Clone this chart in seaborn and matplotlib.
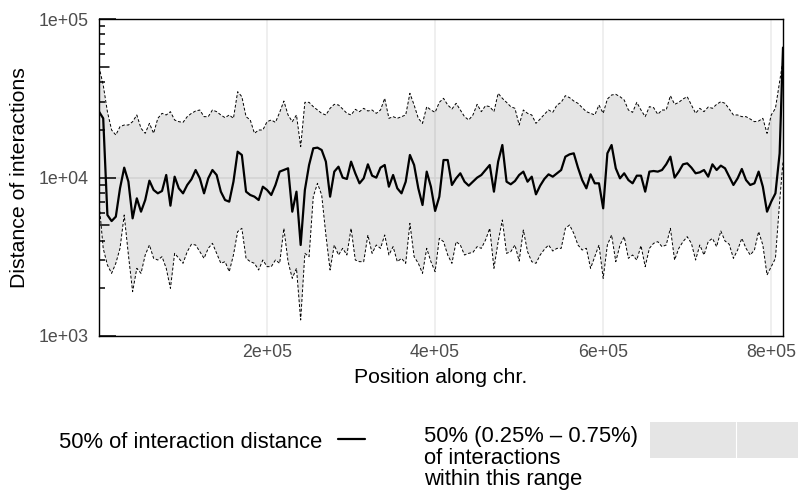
import matplotlib
matplotlib.use("Agg")
import matplotlib.pyplot as plt
import numpy as np
import pandas as pd
import seaborn as sns
from matplotlib.ticker import LogLocator, FixedLocator, FuncFormatter, NullLocator, NullFormatter
from matplotlib.lines import Line2D
from matplotlib.patches import Rectangle

# ---------------- data ----------------
position_kb = [0, 5, 10, 15, 20, 25, 30, 35, 40, 45,
               50, 55, 60, 65, 70, 75, 80, 85, 90, 95,
               100, 105, 110, 115, 120, 125, 130, 135, 140, 145,
               150, 155, 160, 165, 170, 175, 180, 185, 190, 195,
               200, 205, 210, 215, 220, 225, 230, 235, 240, 245,
               250, 255, 260, 265, 270, 275, 280, 285, 290, 295,
               300, 305, 310, 315, 320, 325, 330, 335, 340, 345,
               350, 355, 360, 365, 370, 375, 380, 385, 390, 395,
               400, 405, 410, 415, 420, 425, 430, 435, 440, 445,
               450, 455, 460, 465, 470, 475, 480, 485, 490, 495,
               500, 505, 510, 515, 520, 525, 530, 535, 540, 545,
               550, 555, 560, 565, 570, 575, 580, 585, 590, 595,
               600, 605, 610, 615, 620, 625, 630, 635, 640, 645,
               650, 655, 660, 665, 670, 675, 680, 685, 690, 695,
               700, 705, 710, 715, 720, 725, 730, 735, 740, 745,
               750, 755, 760, 765, 770, 775, 780, 785, 790, 795,
               800, 805, 810, 814]

median_dist = [26020, 23620, 5800, 5310, 5660, 8545, 11540, 9410, 5525, 7390,
               6087, 7210, 9550, 8340, 7945, 8220, 10370, 6640, 10120, 8545,
               7945, 8970, 9740, 11150, 9880, 7945, 9880, 11150, 10370, 8140,
               7210, 7040, 9410, 14550, 13870, 8140, 7756, 7570, 7210, 8750,
               8340, 7756, 8970, 10890, 11150, 11430, 6087, 8140, 3751, 8340,
               11990, 15280, 15430, 14910, 12590, 7570, 10890, 11700, 9980, 9790,
               12590, 10630, 9190, 9880, 12110, 10270, 9980, 11540, 11990, 8750,
               10370, 8545, 7945, 9410, 13870, 11990, 8545, 6707, 10890, 8750,
               6150, 7570, 12890, 12890, 8970, 9880, 10630, 9410, 8880, 9410,
               9980, 10370, 11150, 11990, 8140, 12590, 16030, 9410, 9060, 9500,
               10370, 10890, 9410, 10120, 7830, 8880, 9790, 10470, 10120, 10630,
               11150, 13530, 14000, 14210, 11540, 9640, 8545, 10470, 9190, 9190,
               6390, 14210, 16030, 11430, 9880, 10630, 9640, 9190, 10270, 10270,
               8140, 10890, 10990, 10890, 11150, 12110, 13530, 9980, 10890, 12110,
               12290, 11540, 10630, 10780, 11150, 10120, 12110, 11150, 11880, 11430,
               10120, 8970, 9880, 11320, 9640, 8970, 9190, 10890, 8750, 6087,
               7040, 7945, 14210, 66000]

upper_dist = [50030, 38340, 26020, 19940, 18540, 20930, 21440, 21440, 22500, 24800,
              20430, 19000, 21960, 19000, 23620, 25400, 24800, 26020, 23060, 22500,
              22280, 24200, 25400, 26280, 26660, 24200, 24200, 26660, 26020, 24800,
              23850, 24800, 23620, 34800, 32360, 24200, 23060, 19000, 19940, 19940,
              22500, 23060, 22280, 25770, 30380, 24800, 22500, 24800, 15650, 29800,
              29800, 27990, 26660, 25400, 24800, 27320, 28950, 28670, 27050, 25400,
              24800, 26920, 26020, 27320, 26280, 26660, 25400, 26660, 31590, 23620,
              24200, 23620, 24200, 24800, 33970, 28670, 23620, 21960, 27990, 26660,
              25770, 29800, 31590, 28670, 27050, 29370, 26660, 24200, 23060, 24800,
              28950, 26020, 28390, 27990, 26020, 33970, 31590, 29800, 27990, 27320,
              21440, 26660, 25400, 24800, 21960, 23390, 25040, 26660, 25770, 28670,
              29800, 32830, 31900, 30380, 29370, 27590, 26020, 25400, 24800, 28670,
              25400, 31280, 33150, 33480, 32360, 30830, 26660, 25770, 29800, 26660,
              24200, 27990, 27590, 25040, 26660, 26660, 32830, 28950, 29800, 31280,
              32360, 28670, 25400, 27320, 26020, 27850, 27320, 28950, 30090, 29370,
              27050, 24800, 24800, 24200, 24200, 23390, 22500, 22720, 23620, 19000,
              24800, 27320, 40240, 55000]

lower_dist = [7040, 3573, 2805, 2485, 2874, 3573, 5800, 3243, 1904, 2673,
              2485, 3243, 3751, 3090, 3016, 3166, 2673, 1999, 3323, 3090,
              2874, 3404, 3790, 3751, 3404, 3090, 3573, 3843, 3323, 2874,
              2944, 2546, 3243, 4552, 4777, 3090, 2944, 2874, 2609, 3016,
              2738, 2738, 3016, 2874, 4777, 2944, 2311, 2673, 1262, 3323,
              3166, 7570, 9190, 7756, 4337, 2609, 3751, 3243, 3573, 3243,
              4777, 3016, 2944, 2944, 4337, 3323, 3751, 3573, 4337, 3243,
              3661, 2944, 3090, 2874, 5137, 3166, 2874, 2485, 3573, 2944,
              2546, 4132, 3937, 3243, 2874, 3937, 3751, 3243, 3323, 3370,
              3661, 3573, 4033, 4777, 2673, 3937, 5393, 3323, 3404, 3751,
              2970, 4663, 3404, 2944, 2874, 3243, 3520, 3751, 3437, 3573,
              3573, 4777, 5014, 4443, 3751, 3488, 3573, 2673, 3166, 3751,
              2311, 3751, 4337, 2944, 3751, 4233, 3090, 3243, 3016, 3715,
              2738, 3573, 3843, 3937, 3661, 3751, 4777, 3016, 3573, 3937,
              4233, 3843, 3016, 3751, 3243, 3937, 4132, 3661, 4597, 3975,
              3790, 3090, 3488, 4132, 3573, 3243, 3488, 4552, 3751, 2426,
              2738, 3090, 7040, 12590]

x_ticks = [2e5, 4e5, 6e5, 8e5]
y_ticks = [1e3, 1e4, 1e5]
x_label = "Position along chr."
y_label = "Distance of interactions"
legend_line_label = "50% of interaction distance"
legend_band_lines = ["50% (0.25% \u2013 0.75%)", "of interactions", "within this range"]

df = pd.DataFrame({
    "position": np.array(position_kb) * 1000,
    "median": median_dist,
    "upper": upper_dist,
    "lower": lower_dist,
})

# ---------------- style ----------------
sns.set_theme(style="white")
plt.rcParams["font.family"] = ["Liberation Sans", "DejaVu Sans"]

W, H = 798, 493
fig = plt.figure(figsize=(W / 100, H / 100), dpi=100)
ax = fig.add_axes([99 / W, 1 - 336 / H, 684 / W, 317 / H])

ax.fill_between(df["position"], df["lower"], df["upper"],
                facecolor=(0, 0, 0, 0.1), edgecolor="none", zorder=1)
sns.lineplot(data=df, x="position", y="upper", color="black", lw=0.7,
             linestyle=(0, (3, 2)), ax=ax, zorder=2)
sns.lineplot(data=df, x="position", y="lower", color="black", lw=0.7,
             linestyle=(0, (3, 2)), ax=ax, zorder=2)
sns.lineplot(data=df, x="position", y="median", color="black", lw=1.6,
             ax=ax, zorder=3)

ax.set_yscale("log")
ax.set_ylim(1e3, 1e5)
ax.set_xlim(0, 814000)

fmt = FuncFormatter(lambda v, p: f"{v:.0e}")
ax.xaxis.set_major_locator(FixedLocator(x_ticks))
ax.xaxis.set_major_formatter(fmt)
ax.xaxis.set_minor_locator(NullLocator())
ax.yaxis.set_major_locator(FixedLocator(y_ticks))
ax.yaxis.set_major_formatter(fmt)
ax.yaxis.set_minor_locator(LogLocator(base=10, subs=[2, 3, 4, 6, 7, 8, 9]))
ax.yaxis.set_minor_formatter(NullFormatter())

ax.grid(True, which="major", color="#ebebeb", lw=1.1)
ax.set_axisbelow(True)
for s in ax.spines.values():
    s.set_visible(True)
    s.set_color("black")
    s.set_linewidth(1.0)

ax.tick_params(axis="x", which="major", length=0, pad=6, labelsize=12.8,
               labelcolor="#4d4d4d")
ax.tick_params(axis="y", which="major", direction="in", length=12.2, width=1.1,
               color="black", pad=7.2, labelsize=12.8, labelcolor="#4d4d4d",
               left=True)
ax.tick_params(axis="y", which="minor", direction="in", length=4.3, width=1.1,
               color="black", left=True)
# mid-length log ticks at the 5s
for v in (5e3, 5e4):
    ax.axhline(v, xmin=0, xmax=10 / 684, color="black", lw=1.1, zorder=4)

ax.set_xlabel(x_label, fontsize=15.3, color="black", va="baseline")
ax.xaxis.set_label_coords(0.5, (336 - 383) / 317)
ax.set_ylabel(y_label, fontsize=15.3, color="black", va="center")
ax.yaxis.set_label_coords((20 - 99) / 684, 0.5)

# ---------------- legend ----------------
fx = lambda px: px / W
fy = lambda py: 1 - py / H
fig.text(fx(59.3), fy(448), legend_line_label, fontsize=15.8, va="baseline",
         ha="left", color="black")
fig.add_artist(Line2D([fx(337.7), fx(365)], [fy(439.3), fy(439.3)],
                      transform=fig.transFigure, color="black", lw=1.6))
for txt, base in zip(legend_band_lines, [442, 463.5, 485]):
    fig.text(fx(424), fy(base), txt, fontsize=15.8, va="baseline", ha="left",
             color="black")
fig.add_artist(Rectangle((fx(650), fy(458)), 150 / W, 36 / H,
                         transform=fig.transFigure, facecolor=(0, 0, 0, 0.1),
                         edgecolor="none"))
fig.add_artist(Line2D([fx(736), fx(736)], [fy(458), fy(422)],
                      transform=fig.transFigure, color="white", lw=0.8))

fig.savefig("out.png", dpi=100)
